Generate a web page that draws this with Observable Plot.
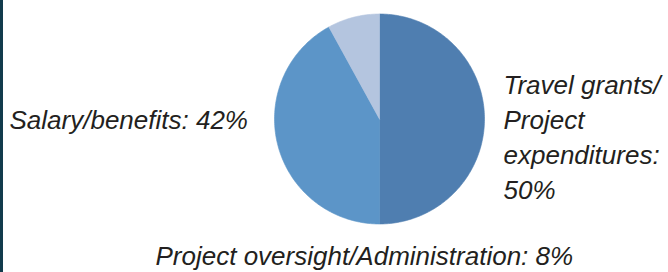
<!DOCTYPE html>
<html>
<head>
<meta charset="utf-8">
<script src="https://cdn.jsdelivr.net/npm/d3@7"></script>
<script src="https://cdn.jsdelivr.net/npm/@observablehq/plot@0.6"></script>
<style>
  html, body { margin: 0; padding: 0; background: #fff; }
  #wrap { position: relative; width: 668px; height: 272px; overflow: hidden; }
  #edge { position: absolute; left: 0; top: 0; width: 3px; height: 272px; background: #123b4c; }
</style>
</head>
<body>
<div id="wrap"><div id="edge"></div></div>
<script>
// Data
const categories = ["Travel grants/Project expenditures", "Salary/benefits", "Project oversight/Administration"];
const shares = [50, 42, 8];
const labels = ["Travel grants/\nProject\nexpenditures:\n50%", "Salary/benefits: 42%", "Project oversight/Administration: 8%"];
const colors = ["#4f7eb0", "#5c95c8", "#b4c5df"];

// Pie geometry from data (d3.pie starts at 12 o'clock, clockwise)
const arcs = d3.pie().sort(null).value(d => d)(shares);
const pts = [];
arcs.forEach((a, i) => {
  const n = Math.max(4, Math.ceil((a.endAngle - a.startAngle) / (Math.PI / 180)));
  pts.push({cat: categories[i], x: 0, y: 0, k: 0});
  for (let j = 0; j <= n; j++) {
    const t = a.startAngle + (a.endAngle - a.startAngle) * j / n;
    pts.push({cat: categories[i], x: Math.sin(t), y: Math.cos(t), k: j + 1});
  }
  pts.push({cat: categories[i], x: 0, y: 0, k: n + 2});
});

const cx = 379, cy = 118.5, r = 105;
const font = "'Liberation Sans', Arial, sans-serif";

const chart = Plot.plot({
  width: 668,
  height: 272,
  margin: 0,
  x: {domain: [-1, 1], range: [cx - r, cx + r], axis: null},
  y: {domain: [-1, 1], range: [cy + r, cy - r], axis: null},
  color: {domain: categories, range: colors},
  style: {fontFamily: font, background: "transparent"},
  marks: [
    Plot.line(pts, {x: "x", y: "y", z: "cat", fill: "cat", stroke: "cat", strokeWidth: 0.6, curve: "linear"}),
    Plot.text([labels[1]], {frameAnchor: "top-left", dx: 9, dy: 128, lineAnchor: "bottom", textAnchor: "start",
      fontSize: 26, fontStyle: "italic", fill: "#231f20"}),
    Plot.text([labels[0]], {frameAnchor: "top-left", dx: 503, dy: 69, lineAnchor: "top", textAnchor: "start",
      lineHeight: 1.34, fontSize: 26, fontStyle: "italic", fill: "#231f20"}),
    Plot.text([labels[2]], {frameAnchor: "top-left", dx: 155, dy: 264, lineAnchor: "bottom", textAnchor: "start",
      fontSize: 26, fontStyle: "italic", fill: "#231f20"})
  ]
});
document.getElementById("wrap").appendChild(chart);
</script>
</body>
</html>
